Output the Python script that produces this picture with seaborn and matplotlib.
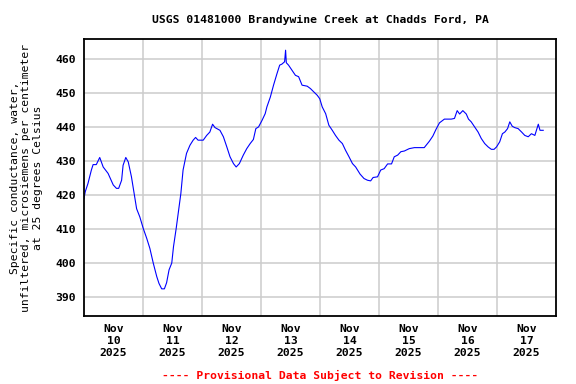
import numpy as np
import pandas as pd
from matplotlib import pyplot as plt
import seaborn as sns

# horas desde Nov 10 2025 00:00 y conductancia
hours = [0, 0.5, 1.6, 3.0, 3.7, 5.0, 6.4, 7.8, 9.8, 11.9, 13.2, 14.1, 15.3, 15.9, 17.0, 18.0,
         19.3, 20.4, 21.4, 22.7, 24.1, 25.5, 26.8, 28.2, 29.6, 30.5, 31.6, 32.7, 33.6, 34.6,
         35.7, 36.4, 37.5, 38.4, 39.4, 40.3, 41.7, 43.1, 44.4, 45.4, 46.4, 48.5, 49.9, 51.2,
         52.3, 53.3, 55.3, 56.7, 58.1, 59.4, 60.8, 61.9, 63.2, 64.8, 66.2, 67.6, 68.9, 69.9,
         71.0, 72.4, 73.7, 74.4, 75.8, 77.1, 78.5, 79.6, 80.5, 81.6, 82.0, 82.3, 83.2, 84.6,
         86.0, 87.3, 88.7, 90.8, 92.1, 93.5, 94.9, 95.9, 96.9, 98.3, 99.6, 101.0, 102.3, 103.7,
         105.1, 106.4, 107.8, 109.2, 110.5, 112.3, 113.9, 115.3, 116.6, 117.6, 119.4, 120.7,
         122.1, 123.5, 125.1, 126.2, 127.6, 128.9, 130.3, 132.3, 134.4, 136.4, 138.4, 140.5,
         141.9, 143.2, 144.6, 146.6, 149.4, 150.7, 151.8, 152.8, 154.1, 155.5, 156.4, 157.5,
         158.9, 160.3, 161.6, 163.0, 164.4, 165.7, 166.8, 167.8, 169.1, 170.2, 171.2, 172.3,
         173.2, 174.2, 175.2, 176.6, 178.0, 179.3, 180.7, 182.0, 183.4, 184.8, 185.5, 186.8]
conductance = [419.0, 421.0, 423.4, 427.4, 429.0, 429.0, 431.1, 428.3, 426.4, 423.0, 422.0, 422.0,
               424.4, 428.8, 431.1, 429.8, 425.4, 420.5, 416.0, 413.6, 410.2, 407.3, 404.3, 399.9,
               396.0, 394.0, 392.4, 392.4, 394.2, 398.0, 400.0, 404.8, 410.2, 415.1, 420.5, 427.4,
               432.3, 434.7, 436.2, 437.0, 436.2, 436.2, 437.6, 438.6, 440.9, 439.9, 439.1, 437.2,
               434.2, 431.3, 429.3, 428.3, 429.3, 431.8, 433.7, 435.2, 436.4, 439.6, 440.1, 442.0,
               444.0, 446.0, 448.9, 452.4, 455.8, 458.3, 458.6, 459.3, 462.7, 459.0, 458.3, 456.8,
               455.3, 454.9, 452.4, 452.1, 451.4, 450.4, 449.4, 448.4, 446.0, 444.0, 440.6, 439.1,
               437.6, 436.2, 435.2, 433.2, 431.3, 429.3, 428.3, 426.2, 424.9, 424.4, 424.2, 425.2,
               425.4, 427.4, 427.8, 429.2, 429.2, 431.3, 431.8, 432.8, 433.0, 433.7, 434.0, 434.0,
               434.0, 435.9, 437.4, 439.4, 441.3, 442.4, 442.4, 442.6, 444.9, 443.9, 444.9, 443.9,
               442.4, 441.6, 440.1, 438.6, 436.7, 435.2, 434.2, 433.5, 433.5, 434.2, 435.7, 438.1,
               438.6, 439.6, 441.6, 440.3, 439.9, 439.6, 438.6, 437.6, 437.2, 438.1, 437.6, 440.9,
               439.1, 439.1]

day_labels = ['Nov\n10\n2025', 'Nov\n11\n2025', 'Nov\n12\n2025', 'Nov\n13\n2025',
              'Nov\n14\n2025', 'Nov\n15\n2025', 'Nov\n16\n2025', 'Nov\n17\n2025']
y_ticks = [390, 400, 410, 420, 430, 440, 450, 460]

df = pd.DataFrame({'hours': hours, 'conductance': conductance})

plt.rcParams['font.family'] = ['DejaVu Sans Mono']
plt.rcParams['font.weight'] = 'bold'
plt.rcParams['font.size'] = 8.2

fig = plt.figure(figsize=(5.76, 3.84), dpi=100)
ax = fig.add_axes([84 / 576, 68 / 384, 472 / 576, 277 / 384])

sns.lineplot(data=df, x='hours', y='conductance', color='#0000FF', linewidth=0.8, ax=ax)

ax.set_xlim(0, 192)
ax.set_ylim(384.4, 466.0)
ax.set_xticks([24 * k for k in range(1, 8)])
ax.set_xticklabels([])
ax.set_xticks([12 + 24 * k for k in range(8)], minor=True)
ax.set_xticklabels(day_labels, minor=True, linespacing=1.25)
ax.tick_params(axis='x', which='both', length=0, pad=6)
ax.set_yticks(y_ticks)
ax.tick_params(axis='y', length=0, pad=6)
ax.grid(True, which='major', color='#CCCCCC', linewidth=1.1)
ax.set_axisbelow(True)
for s in ax.spines.values():
    s.set_color('black')
    s.set_linewidth(1.3)

ax.set_xlabel('')
ax.set_ylabel('Specific conductance, water,\nunfiltered, microsiemens per centimeter\nat 25 degrees Celsius',
              linespacing=1.15, labelpad=9)
fig.text(320 / 576, 1 - 20 / 384, 'USGS 01481000 Brandywine Creek at Chadds Ford, PA',
         ha='center', va='center')
fig.text(320 / 576, 1 - 375 / 384, '---- Provisional Data Subject to Revision ----',
         ha='center', va='center', color='red')

plt.savefig('out.png', dpi=100)
